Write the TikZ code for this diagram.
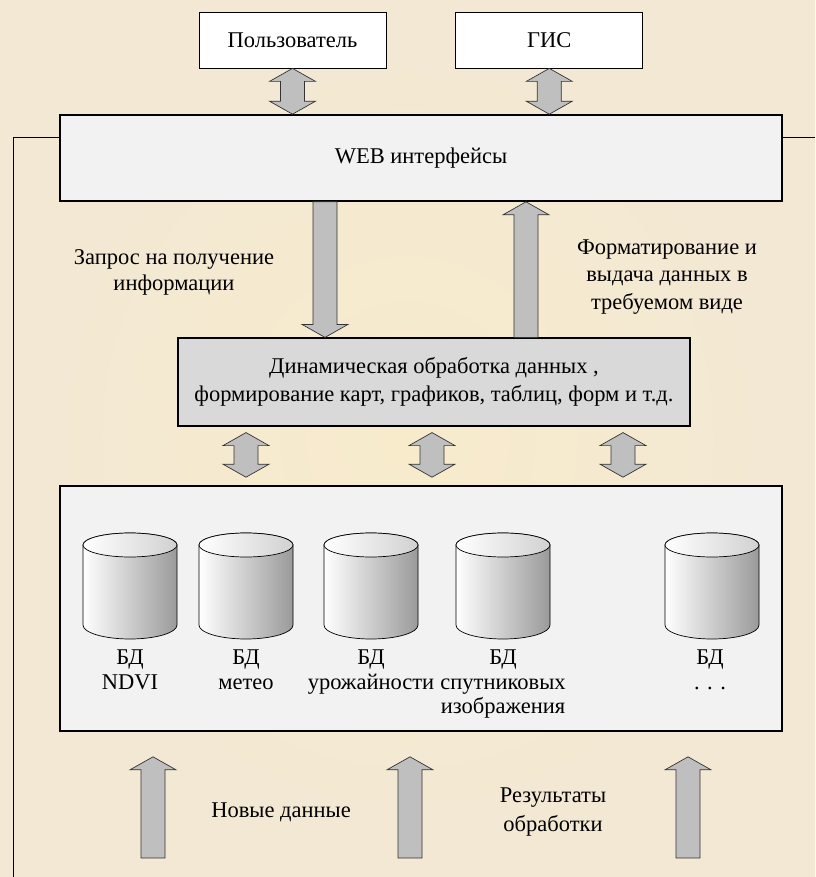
\documentclass[tikz,border=0pt]{standalone}
\usepackage{fontspec}
\setmainfont{Liberation Serif}
\usetikzlibrary{calc,positioning}
\definecolor{bgcol}{HTML}{F2E8D4}
\definecolor{bgmid}{HTML}{F8EBCC}
\definecolor{boxlight}{HTML}{F2F2F2}
\definecolor{boxdark}{HTML}{D9D9D9}
\definecolor{arrowgray}{HTML}{BFBFBF}
\definecolor{cylgray}{HTML}{9A9A9A}
% block arrows: #1 = tail, #2 = tip
\newcommand{\arrowup}[2]{%
  \filldraw[blkarrow] (#2) -- ($(#2)+(23,13)$) -- ($(#2)+(12,13)$) -- ($(#1)+(12,0)$)
    -- ($(#1)+(-12,0)$) -- ($(#2)+(-12,13)$) -- ($(#2)+(-23,13)$) -- cycle;}
\newcommand{\arrowdown}[2]{%
  \filldraw[blkarrow] (#2) -- ($(#2)+(23,-13)$) -- ($(#2)+(12,-13)$) -- ($(#1)+(12,0)$)
    -- ($(#1)+(-12,0)$) -- ($(#2)+(-12,-13)$) -- ($(#2)+(-23,-13)$) -- cycle;}
% #1 = upper end, #2 = lower end
\newcommand{\arrowboth}[2]{%
  \filldraw[blkarrow] (#1) -- ($(#1)+(23,13)$) -- ($(#1)+(12,13)$) -- ($(#2)+(12,-13)$)
    -- ($(#2)+(23,-13)$) -- (#2) -- ($(#2)+(-23,-13)$) -- ($(#2)+(-12,-13)$)
    -- ($(#1)+(-12,13)$) -- ($(#1)+(-23,13)$) -- cycle;}
\begin{document}
\begin{tikzpicture}[x=1pt,y=-1pt,
    font=\rmfamily\fontsize{22.5}{26}\selectfont,
    actor/.style={draw, fill=white, line width=0.8pt, minimum width=187pt, minimum height=56pt, inner sep=0pt},
    bigbox/.style={draw, fill=boxlight, line width=1.6pt, minimum width=722pt, inner sep=0pt},
    procbox/.style={draw, fill=boxdark, line width=1.2pt, minimum width=512pt, minimum height=88pt,
      align=center, inner sep=0pt, font=\rmfamily\fontsize{22.5}{28}\selectfont},
    note/.style={align=center, inner sep=0pt},
    dblabel/.style={align=center, anchor=north, inner sep=0pt, font=\rmfamily\fontsize{22.5}{24.5}\selectfont},
    blkarrow/.style={fill=arrowgray, draw=black!80, line width=0.7pt, line join=miter},
    dbcyl/.pic={
      \shadedraw[left color=white, right color=cylgray, draw=black, line width=0.7pt]
        (-47,0) -- (-47,80) arc[start angle=180, end angle=0, x radius=47, y radius=14]
        -- (47,0) arc[start angle=0, end angle=-180, x radius=47, y radius=12] -- cycle;
      \shadedraw[left color=white, right color=black!18, draw=black, line width=0.7pt]
        (0,0) ellipse[x radius=47, y radius=12];
    }]
  \shade[inner color=bgmid, outer color=bgcol] (0,0) rectangle (815,877);
  \useasboundingbox (0,0) rectangle (815,877);
  \draw[line width=0.8pt] (13,877) |- (815,137);

  % top
  \node[actor] (user) at (292.5,40) {Пользователь};
  \node[actor, right=69pt of user] (gis) {ГИС};
  \node[bigbox, minimum height=86pt] (web) at (421,158) {WEB интерфейсы};
  \arrowboth{user.south}{user.south |- web.north}
  \arrowboth{gis.south}{gis.south |- web.north}

  % processing
  \node[procbox] (dyn) at (434,382) {Динамическая обработка данных ,\\формирование карт, графиков, таблиц, форм и т.д.};
  \arrowdown{325,0 |- web.south}{325,0 |- dyn.north}
  \arrowup{526,0 |- dyn.north}{526,0 |- web.south}
  \node[note] (req) at (174,272) {Запрос на получение\\информации};
  \node[note, font=\rmfamily\fontsize{22.5}{27.5}\selectfont] (fmt) at (667,277) {Форматирование и\\выдача данных в\\требуемом виде};

  % databases
  \node[bigbox, minimum height=245pt] (db) at (421,608.5) {};
  \foreach \xx in {246,432,623}
    \arrowboth{$(\xx,0 |- dyn.south)+(0,6)$}{$(\xx,0 |- db.north)+(0,-8)$};
  \foreach \xx in {130,246,371,503,712}
    \pic at (\xx,545) {dbcyl};
  \node[dblabel] (bd1) at (130,650) {БД\\NDVI};
  \node[dblabel] (bd2) at (246,650) {БД\\метео};
  \node[dblabel] (bd3) at (371,650) {БД\\урожайности};
  \node[dblabel] (bd4) at (503,650) {БД\\спутниковых\\изображения};
  \node[dblabel] (bd5) at (710,650) {БД\\. . .};

  % input
  \coordinate (in1) at (153,858);
  \coordinate (in2) at (410,858);
  \coordinate (in3) at (688,858);
  \arrowup{in1}{$(in1 |- db.south)+(0,25)$}
  \arrowup{in2}{$(in2 |- db.south)+(0,25)$}
  \arrowup{in3}{$(in3 |- db.south)+(0,25)$}
  \node[note] (new) at (281,812) {Новые данные};
  \node[note, font=\rmfamily\fontsize{22.5}{29}\selectfont] (res) at (553,812) {Результаты\\обработки};
\end{tikzpicture}
\end{document}
